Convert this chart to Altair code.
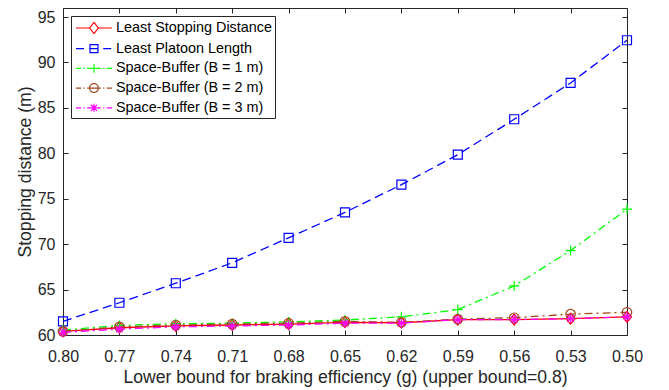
import altair as alt
import pandas as pd

# ---- data ----
x_vals = [0.80, 0.77, 0.74, 0.71, 0.68, 0.65, 0.62, 0.59, 0.56, 0.53, 0.50]
least_stopping = [60.4, 60.8, 61.0, 61.1, 61.2, 61.4, 61.35, 61.7, 61.7, 61.8, 62.0]
least_platoon = [61.5, 63.55, 65.7, 67.95, 70.7, 73.5, 76.55, 79.85, 83.75, 87.75, 92.45]
buffer_1m = [60.55, 61.05, 61.25, 61.3, 61.45, 61.65, 62.0, 62.8, 65.4, 69.3, 73.85]
buffer_2m = [60.4, 60.9, 61.1, 61.2, 61.3, 61.5, 61.4, 61.75, 61.9, 62.3, 62.5]
buffer_3m = [60.3, 60.65, 60.9, 61.0, 61.1, 61.3, 61.3, 61.7, 61.7, 61.8, 62.0]

series_names = [
    "Least Stopping Distance",
    "Least Platoon Length",
    "Space-Buffer (B = 1 m)",
    "Space-Buffer (B = 2 m)",
    "Space-Buffer (B = 3 m)",
]
series_values = [least_stopping, least_platoon, buffer_1m, buffer_2m, buffer_3m]

y_ticks = [60, 65, 70, 75, 80, 85, 90, 95]

# ---- styles ----
colors = ["#FF0000", "#0000FF", "#00FF00", "#A0461E", "#FF00FF"]
dashes = [None, [9, 5], [8, 4, 2, 4], [8, 4, 2, 4], [8, 4, 2, 4]]
marker_paths = [
    "M0,-1.2L1,0L0,1.2L-1,0Z",
    "square",
    "M-1,0H1M0,-1V1",
    "circle",
    "M-1,0H1M0,-1V1M-0.72,-0.72L0.72,0.72M-0.72,0.72L0.72,-0.72",
]
marker_sizes = [81, 81, 100, 90, 81]

dd = "M-2.25,0H-1.6M-1.3,0H-1.15M-0.85,0H-0.45M0.45,0H0.85M1.15,0H1.3M1.6,0H2.25"
legend_paths = [
    "M-2.25,0H-0.55M0.55,0H2.25M0,-0.7L0.55,0L0,0.7L-0.55,0Z",
    "M-2.25,0H-1.25M-0.6,0H0.5M1.15,0H2.15M-0.5,-0.5H0.5V0.5H-0.5Z",
    dd + "M-0.55,0H0.55M0,-0.55V0.55",
    dd + "M-0.5,0H0.5M0.55,0A0.55,0.55 0 1,1 -0.55,0A0.55,0.55 0 1,1 0.55,0",
    dd + "M-0.5,0H0.5M0,-0.5V0.5M-0.38,-0.38L0.38,0.38M-0.38,0.38L0.38,-0.38",
]

rows = []
for name, vals in zip(series_names, series_values):
    for xv, yv in zip(x_vals, vals):
        rows.append({"series": name, "x": xv, "y": yv})
df = pd.DataFrame(rows)

FONT = "Liberation Sans"
AX = "#262626"

x_scale = alt.Scale(domain=[0.5, 0.8], reverse=True, nice=False, zero=False)
y_scale = alt.Scale(domain=[60, 96], nice=False, zero=False)
color_scale = alt.Scale(domain=series_names, range=colors)

x_axis_main = alt.Axis(
    orient="bottom", values=x_vals, format=".2f", tickSize={"expr": "-5"},
    labelPadding=18, labelFontSize=16, labelColor=AX, labelFlush=False,
    title="Lower bound for braking efficiency (g) (upper bound=0.8)",
    titleFontSize=17.6, titleFontWeight="normal", titleColor=AX, titlePadding=4,
    domainColor=AX, tickColor=AX, grid=False,
)
y_axis_main = alt.Axis(
    orient="left", values=y_ticks, format="d", tickSize={"expr": "-5"},
    labelPadding=13, labelFontSize=16, labelColor=AX,
    title="Stopping distance (m)", titleFontSize=17.6, titleFontWeight="normal",
    titleColor=AX, titlePadding=3, domainColor=AX, tickColor=AX, grid=False,
)
x_axis_top = alt.Axis(
    orient="top", values=x_vals, labels=False, tickSize={"expr": "-5"},
    title=None, domainColor=AX, tickColor=AX, grid=False,
)
y_axis_right = alt.Axis(
    orient="right", values=y_ticks, labels=False, tickSize={"expr": "-5"},
    title=None, domainColor=AX, tickColor=AX, grid=False,
)

base = alt.Chart(df)
layers = []
for i, name in enumerate(series_names):
    sub = base.transform_filter(alt.FieldEqualPredicate(field="series", equal=name))
    line_kwargs = dict(strokeWidth=1.3, color=colors[i])
    if dashes[i] is not None:
        line_kwargs["strokeDash"] = dashes[i]
    xa = x_axis_main if i == 0 else None
    ya = y_axis_main if i == 0 else None
    line = sub.mark_line(**line_kwargs).encode(
        x=alt.X("x:Q", scale=x_scale, axis=xa),
        y=alt.Y("y:Q", scale=y_scale, axis=ya),
    )
    pts = sub.mark_point(
        shape=marker_paths[i], size=marker_sizes[i], filled=False,
        strokeWidth=1.2, opacity=1, color=colors[i],
    ).encode(
        x=alt.X("x:Q", scale=x_scale, axis=None),
        y=alt.Y("y:Q", scale=y_scale, axis=None),
    )
    layers += [line, pts]

legend_props = dict(
    title=None, orient="none", legendX=8, legendY=8,
    symbolSize=256, symbolStrokeWidth=1.2, symbolOpacity=1,
    symbolOffset=11, labelOffset=13, labelFontSize=14.4, labelColor="#000000",
    labelFont=FONT, labelLimit=400, padding=3, rowPadding=3.7,
    fillColor="white", strokeColor=AX,
)
legend_layer = base.mark_point(filled=False, opacity=0).encode(
    x=alt.X("x:Q", scale=x_scale, axis=x_axis_top),
    y=alt.Y("y:Q", scale=y_scale, axis=y_axis_right),
    color=alt.Color("series:N", scale=color_scale, legend=alt.Legend(**legend_props)),
    shape=alt.Shape("series:N", scale=alt.Scale(domain=series_names, range=legend_paths),
                    legend=alt.Legend(**legend_props)),
)
layers.append(legend_layer)

chart = alt.layer(*layers).properties(
    width=564, height=327,
    autosize=alt.AutoSizeParams(type="none"),
    padding={"left": 55, "top": 0, "right": 20, "bottom": 60},
).configure(font=FONT).configure_view(stroke=None)

chart.save("out.html", embed_options={"renderer": "svg", "actions": False})
